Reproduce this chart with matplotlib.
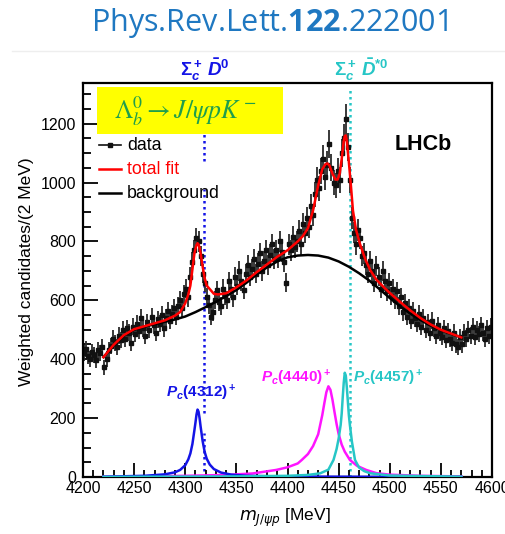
import numpy as np
import matplotlib
matplotlib.use("Agg")
import matplotlib.pyplot as plt
from matplotlib.patches import Rectangle
from matplotlib.lines import Line2D
from matplotlib.ticker import MultipleLocator

plt.rcParams['font.family'] = 'Liberation Sans'
plt.rcParams['mathtext.fontset'] = 'custom'
plt.rcParams['mathtext.rm'] = 'Liberation Sans:bold'
plt.rcParams['mathtext.it'] = 'Liberation Sans:italic:bold'
plt.rcParams['mathtext.bf'] = 'Open Sans:bold'

# --- data: weighted candidates in 2 MeV bins, 4200-4600 MeV ---
bin_centres = np.arange(4201, 4600, 2)
counts = [
    420, 435, 410, 400, 425, 415, 398, 430, 420, 440,
    372, 400, 430, 445, 470, 455, 440, 480, 465, 500,
    470, 505, 490, 455, 510, 485, 520, 495, 540, 505,
    480, 525, 500, 545, 515, 490, 535, 520, 550, 505,
    540, 565, 530, 555, 575, 545, 580, 600, 575, 620,
    640, 610, 680, 730, 770, 810, 800, 750, 690, 660,
    610, 585, 545, 560, 600, 635, 595, 580, 640, 615,
    600, 665, 640, 610, 680, 650, 700, 665, 635, 690,
    720, 680, 705, 740, 690, 725, 760, 700, 735, 770,
    720, 755, 790, 740, 770, 745, 800, 765, 730, 660,
    790, 770, 815, 780, 800, 835, 790, 860, 830, 880,
    850, 920, 890, 960, 1010, 980, 1040, 1080, 1020, 1060,
    1130, 1050, 1000, 990, 1040, 1010, 1100, 1150, 1215, 1120,
    1010, 880, 830, 790, 840, 810, 750, 760, 720, 690,
    735, 700, 660, 715, 680, 640, 700, 665, 630, 660,
    615, 640, 600, 630, 580, 610, 560, 590, 545, 575,
    530, 565, 540, 520, 555, 510, 540, 500, 525, 490,
    530, 505, 480, 515, 490, 475, 505, 465, 495, 470,
    455, 490, 450, 440, 475, 450, 490, 470, 500, 480,
    510, 475, 500, 485, 515, 490, 470, 505, 480, 510,
]
errors = [
    27, 27, 27, 27, 27, 27, 27, 27, 27, 27,
    26, 27, 27, 27, 28, 28, 27, 28, 28, 29,
    28, 29, 28, 28, 29, 28, 29, 28, 29, 29,
    28, 29, 29, 29, 29, 28, 29, 29, 30, 29,
    29, 30, 29, 30, 30, 29, 30, 31, 30, 31,
    31, 31, 32, 34, 35, 37, 37, 35, 32, 32,
    31, 30, 29, 30, 31, 31, 30, 30, 31, 31,
    31, 32, 31, 31, 32, 32, 34, 32, 31, 32,
    34, 32, 34, 34, 32, 34, 35, 34, 34, 35,
    34, 35, 35, 34, 35, 34, 37, 35, 34, 32,
    35, 35, 37, 35, 37, 37, 35, 38, 37, 38,
    38, 40, 38, 42, 44, 42, 44, 46, 44, 46,
    48, 46, 44, 42, 44, 44, 48, 50, 52, 48,
    44, 38, 37, 35, 37, 37, 35, 35, 34, 32,
    34, 34, 32, 34, 32, 31, 34, 32, 31, 32,
    31, 31, 31, 31, 30, 31, 30, 30, 29, 30,
    29, 30, 29, 29, 30, 29, 29, 29, 29, 28,
    29, 29, 28, 29, 28, 28, 29, 28, 28, 28,
    28, 28, 28, 27, 28, 28, 28, 28, 29, 28,
    29, 28, 29, 28, 29, 28, 28, 29, 28, 29,
]

# background shape
bkg_mass = np.arange(4220, 4571, 10)
bkg_vals = [407, 447, 480, 500, 510, 519, 527, 535, 545, 560, 577, 595,
            614, 635, 660, 688, 712, 732, 746, 752, 754, 752, 745, 732,
            714, 692, 667, 638, 608, 580, 555, 533, 514, 499, 486, 474]

# total fit
fit_mass = [4220, 4230, 4240, 4250, 4260, 4270, 4280, 4290, 4295, 4300,
            4303, 4305, 4307, 4309, 4310, 4311, 4312, 4313, 4314, 4315,
            4317, 4319, 4321, 4324, 4328, 4332, 4340, 4350, 4360, 4370,
            4380, 4390, 4400, 4410, 4415, 4420, 4425, 4430, 4434, 4437,
            4439, 4441, 4444, 4447, 4449, 4451, 4453, 4455, 4456, 4457,
            4458, 4460, 4462, 4464, 4467, 4471, 4476, 4481, 4487, 4494,
            4500, 4510, 4520, 4530, 4540, 4550, 4560, 4570]
fit_vals = [407, 449, 482, 502, 512, 522, 532, 548, 560, 590,
            620, 650, 705, 760, 775, 788, 794, 790, 778, 760,
            715, 675, 650, 638, 622, 620, 624, 644, 668, 696,
            722, 748, 770, 800, 818, 845, 905, 990, 1045, 1062,
            1065, 1058, 1030, 1010, 1010, 1030, 1080, 1140, 1158, 1160,
            1140, 1070, 990, 905, 840, 790, 740, 702, 670, 645,
            625, 595, 566, 540, 518, 500, 487, 474]

# Pc components
pc4312_mass = [4220, 4260, 4280, 4290, 4295, 4300, 4303, 4305, 4307, 4309,
               4310, 4311, 4312, 4313, 4314, 4315, 4317, 4319, 4321, 4324,
               4328, 4335, 4345, 4360, 4400, 4500, 4570]
pc4312_vals = [1, 4, 9, 16, 24, 40, 60, 80, 112, 160,
               185, 212, 229, 222, 200, 172, 122, 85, 62, 42,
               27, 15, 8, 4, 1.5, 0.5, 0.3]

pc4440_mass = [4220, 4300, 4340, 4366, 4389, 4400, 4410, 4414, 4420, 4425,
               4430, 4434, 4436, 4438, 4440, 4442, 4444, 4446, 4448, 4450,
               4453, 4456, 4461, 4468, 4477, 4487, 4500, 4530, 4570]
pc4440_vals = [1, 4, 7, 12, 24, 33, 46, 58, 78, 105,
               145, 210, 250, 288, 308, 296, 262, 220, 180, 146,
               110, 86, 58, 38, 24, 13, 8, 4, 2]

pc4457_mass = [4220, 4350, 4400, 4420, 4432, 4440, 4445, 4448, 4450, 4452,
               4453, 4454, 4455, 4456, 4457, 4458, 4459, 4460, 4461, 4463,
               4466, 4470, 4475, 4481, 4500, 4570]
pc4457_vals = [0.5, 2, 4, 7, 12.5, 25, 58, 95, 130, 177,
               215, 270, 320, 354, 345, 305, 258, 210, 177, 120,
               58, 32, 20, 12.5, 5, 1]

# thresholds
thr_sigc_d = 4318.8
thr_sigc_dstar = 4460.8

blue = '#1414e6'
cyan = '#26c6c6'
magenta = '#ff14ff'

fig = plt.figure(figsize=(5.06, 5.34), dpi=100)
ax = fig.add_axes([83 / 506, 1 - 477 / 534, 409 / 506, 394 / 534])

# threshold lines
ax.vlines([thr_sigc_d] * 3, [0, 217, 1073], [150, 978, 1340], colors=blue,
          linestyles=(0, (1, 1.4)), lw=1.8, zorder=1)
ax.vlines(thr_sigc_dstar, 0, 1318, colors=cyan, linestyles=(0, (1, 1.4)),
          lw=1.8, zorder=1)

# data
ax.errorbar(bin_centres, counts, yerr=errors, fmt='s', ms=2.3, color='#111111',
            ecolor='#2a2a2a', elinewidth=1.3, capsize=0, zorder=2)

# fit curves
ax.plot(bkg_mass, bkg_vals, color='black', lw=1.8, zorder=3)
ax.plot(fit_mass, fit_vals, color='red', lw=1.8, zorder=4)
ax.plot(pc4440_mass, pc4440_vals, color=magenta, lw=1.8, zorder=3)
ax.plot(pc4312_mass, pc4312_vals, color=blue, lw=1.8, zorder=3)
ax.plot(pc4457_mass, pc4457_vals, color=cyan, lw=1.8, zorder=3)

ax.set_xlim(4200, 4600)
ax.set_ylim(0, 1338)
ax.xaxis.set_major_locator(MultipleLocator(50))
ax.xaxis.set_minor_locator(MultipleLocator(10))
ax.yaxis.set_major_locator(MultipleLocator(200))
ax.yaxis.set_minor_locator(MultipleLocator(50))
ax.tick_params(which='both', direction='in', top=False, right=False, width=1.3,
               labelsize=11.5)
ax.tick_params(axis='y', which='major', length=11, pad=5)
ax.tick_params(axis='y', which='minor', length=6)
ax.tick_params(axis='x', which='major', length=10, pad=3)
ax.tick_params(axis='x', which='minor', length=5)
for s in ax.spines.values():
    s.set_linewidth(1.6)

ax.set_ylabel('Weighted candidates/(2 MeV)', fontsize=12.5)
ax.yaxis.set_label_coords(-0.12, 0.52)
ax.set_xlabel(r'$m_{J/\psi p}$ [MeV]', fontsize=12.5, math_fontfamily='dejavusans')
ax.xaxis.set_label_coords(0.494, -0.075)

# decay box
ax.add_patch(Rectangle((0.034, 0.871), 0.455, 0.119, transform=ax.transAxes,
                       facecolor='#ffff00', edgecolor='none', zorder=5))
ax.text(0.249, 0.928, r'$\Lambda_b^0 \rightarrow J/\psi p K^-$', transform=ax.transAxes,
        ha='center', va='center', fontsize=18.5, color='#1f9e4c',
        math_fontfamily='stix', zorder=6)

# legend
leg_y = [0.8426, 0.7817, 0.7208]
ax.plot([0.039, 0.093], [leg_y[0]] * 2, transform=ax.transAxes, color='#111111', lw=1.2)
ax.plot([0.066], [leg_y[0]], 's', ms=2.5, transform=ax.transAxes, color='#111111')
ax.plot([0.039, 0.093], [leg_y[1]] * 2, transform=ax.transAxes, color='red', lw=1.8)
ax.plot([0.039, 0.093], [leg_y[2]] * 2, transform=ax.transAxes, color='black', lw=1.8)
for y, lab, c in zip(leg_y, ['data', 'total fit', 'background'], ['black', 'red', 'black']):
    ax.text(0.1076, y, lab, transform=ax.transAxes, ha='left', va='center',
            fontsize=12.8, color=c)

ax.text(0.831, 0.843, 'LHCb', transform=ax.transAxes, ha='center', va='center',
        fontsize=15.5, fontweight='bold')

# component labels
ax.text(4316, 271, r'$P_c(4312)^+$', color=blue, fontsize=11, ha='center', va='baseline')
ax.text(4409, 322, r'$P_c(4440)^+$', color=magenta, fontsize=11, ha='center', va='baseline')
ax.text(4464, 322, r'$P_c(4457)^+$', color=cyan, fontsize=11, ha='left', va='baseline')

# threshold labels above the frame
fig.text(205 / 506, 1 - 70 / 534, r'$\mathit{\Sigma}_c^+\,\bar{D}^0$', color=blue,
         fontsize=13.5, ha='center', va='center')
fig.text(361 / 506, 1 - 70 / 534, r'$\mathit{\Sigma}_c^+\,\bar{D}^{*0}$', color=cyan,
         fontsize=13.5, ha='center', va='center')

# reference header
fig.text(0.532, 1 - 23 / 534, r'Phys.Rev.Lett.$\mathbf{122}$.222001', color='#1f78c1',
         fontsize=22, ha='center', va='center', family='Open Sans')
fig.add_artist(Line2D([12 / 506, 1], [1 - 51 / 534] * 2, color='#eeeeee', lw=1))

fig.savefig('out.png', dpi=100)
